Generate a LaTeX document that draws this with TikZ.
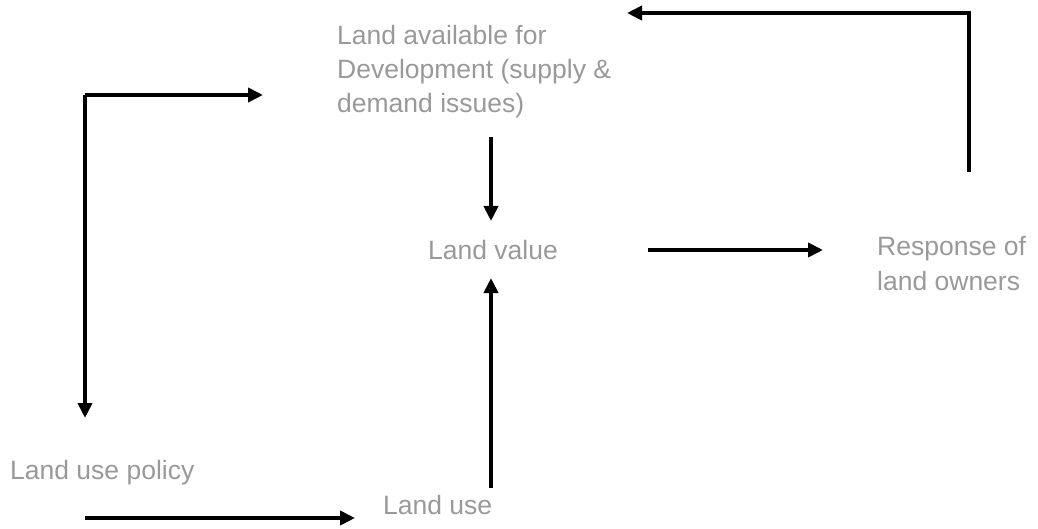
\documentclass[tikz,border=0pt]{standalone}
\usepackage{fontspec}
\setmainfont{Liberation Sans}
\usetikzlibrary{arrows.meta}
\definecolor{txtgray}{RGB}{153,153,153}
\tikzset{
  lbl/.style={anchor=base west, inner sep=0pt, text=txtgray, font=\fontsize{26.5}{34}\selectfont, align=left},
  conn/.style={line width=4pt, -{Triangle[length=15pt,width=14pt]}},
  plain/.style={line width=4pt}
}
\begin{document}
\begin{tikzpicture}[x=1pt,y=-1pt]
\useasboundingbox (0,0) rectangle (1038,529);
% multi-line nodes: base anchor sits on the last line
\node[lbl] (avail) at (337,113) {Land available for\\Development (supply \&\\demand issues)};
\node[lbl] (value) at (428,259) {Land value};
\node[lbl] (resp) at (877,290) {Response of\\land owners};
\node[lbl] (policy) at (10,479) {Land use policy};
\node[lbl] (use) at (383,514) {Land use};
% coordinates
\coordinate (r1) at (969,172);
\coordinate (r2) at (969,13);
\coordinate (r3) at (627,13);
\coordinate (l1) at (85,418);
\coordinate (l2) at (85,95);
\coordinate (l3) at (263,95);
\coordinate (d1) at (491,137);
\coordinate (d2) at (491,221);
\coordinate (h1) at (648,250);
\coordinate (h2) at (823,250);
\coordinate (u1) at (491,488);
\coordinate (u2) at (491,278);
\coordinate (b1) at (85,518);
\coordinate (b2) at (355,518);
\draw[conn, line join=miter] (r1) -- (r2) -- (r3);
\draw[conn, line join=miter] (l2) -- (l3);
\draw[conn] (l2) -- (l1);
\draw[conn] (d1) -- (d2);
\draw[conn] (h1) -- (h2);
\draw[conn] (u1) -- (u2);
\draw[conn] (b1) -- (b2);
\end{tikzpicture}
\end{document}
